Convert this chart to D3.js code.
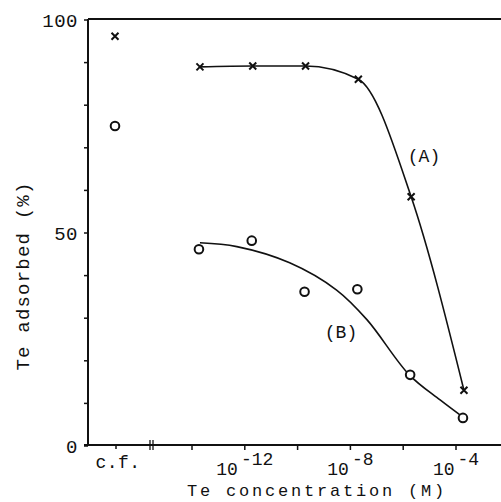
<!DOCTYPE html>
<html><head><meta charset="utf-8">
<script src="https://cdn.jsdelivr.net/npm/d3@7"></script>
<style>
html,body{margin:0;padding:0;background:#fff;}
svg{display:block;}
text{font-family:"Liberation Mono","DejaVu Sans Mono",monospace;fill:#111;}
</style></head>
<body>
<script>
// ---- data ----
const concentrations = [2e-14, 2e-12, 2e-10, 2e-8, 2e-6, 2e-4]; // M
const seriesA = [89.0, 89.2, 89.2, 86.1, 58.5, 13.1];
const seriesB = [46.2, 48.2, 36.2, 36.8, 16.7, 6.6];
// hand-drawn trend curve for (B)
const fitBConc = [2e-14, 5e-13, 5e-11, 3e-9, 4.3e-8, 1.7e-6, 2.5e-5, 2e-4];
const fitB = [47.7, 46.8, 43.0, 36.6, 29.6, 16.7, 10.8, 6.6];
const cfCategory = ["c.f."];
const cfA = [96.2];
const cfB = [75.1];
const yTicksLabeled = [0, 50, 100];
const yTicksMinor = [10, 20, 30, 40, 60, 70, 80, 90];
const xTickValues = [1e-14, 1e-12, 1e-10, 1e-8, 1e-6, 1e-4];
const xTickLabelExp = [-12, -8, -4];

const W = 501, H = 502;
const svg = d3.select("body").append("svg").attr("width", W).attr("height", H);

const x0 = 88, xEnd = 501, yTop = 19, yBot = 446;
const y = d3.scaleLinear().domain([0, 100]).range([446, 20]);
const x = d3.scaleLog().domain([1e-14, 1e-4]).range([192, 456]);
const xcf = d3.scaleBand().domain(cfCategory).range([88, 144]);

const ink = "#111";

// frame: top line
svg.append("line").attr("x1", x0).attr("x2", xEnd).attr("y1", yTop).attr("y2", yTop)
  .attr("stroke", ink).attr("stroke-width", 2);
// y axis line
svg.append("line").attr("x1", x0).attr("x2", x0).attr("y1", yTop).attr("y2", yBot)
  .attr("stroke", ink).attr("stroke-width", 2);
// x axis line
svg.append("line").attr("x1", x0 - 4).attr("x2", xEnd).attr("y1", yBot - 1).attr("y2", yBot - 1)
  .attr("stroke", ink).attr("stroke-width", 2);

// y ticks
svg.selectAll(".ytk").data(yTicksLabeled.concat(yTicksMinor)).enter().append("line")
  .attr("x1", x0 - 4).attr("x2", x0).attr("y1", d => y(d)).attr("y2", d => y(d))
  .attr("stroke", ink).attr("stroke-width", 1.5);
svg.selectAll(".ylab").data(yTicksLabeled).enter().append("text")
  .attr("x", x0 - 10).attr("y", d => y(d)).attr("dy", "0.35em")
  .attr("text-anchor", "end").attr("font-size", 19).attr("letter-spacing", 0.5)
  .text(d => d);

// x ticks
svg.selectAll(".xtk").data(xTickValues).enter().append("line")
  .attr("x1", d => x(d)).attr("x2", d => x(d)).attr("y1", yBot - 1).attr("y2", yBot + 4)
  .attr("stroke", ink).attr("stroke-width", 1.5);
svg.append("line").attr("x1", xcf("c.f.") + xcf.bandwidth() / 2).attr("x2", xcf("c.f.") + xcf.bandwidth() / 2)
  .attr("y1", yBot - 1).attr("y2", yBot + 3).attr("stroke", ink).attr("stroke-width", 1.5);

// axis break marks
[150, 153].forEach(bx => {
  svg.append("line").attr("x1", bx).attr("x2", bx).attr("y1", yBot - 6).attr("y2", yBot + 4)
    .attr("stroke", ink).attr("stroke-width", 1.3);
});

// x tick labels (10^n)
xTickLabelExp.forEach(e => {
  const cx = x(Math.pow(10, e));
  const t = svg.append("text").attr("x", cx).attr("y", yBot + 29)
    .attr("text-anchor", "middle").attr("font-size", 18);
  t.append("tspan").text("10");
  t.append("tspan").attr("dy", -10).attr("dx", 3).text(e);
});
// c.f. label
svg.append("text").attr("x", xcf("c.f.") + xcf.bandwidth() / 2 + 2).attr("y", yBot + 22)
  .attr("text-anchor", "middle").attr("font-size", 18).attr("letter-spacing", 0.5).text("c.f.");

// axis titles
svg.append("text").attr("x", 317).attr("y", 496).attr("text-anchor", "middle")
  .attr("font-size", 17).attr("letter-spacing", 2.8).text("Te concentration (M)");
svg.append("text").attr("transform", "translate(29,276) rotate(-90)")
  .attr("text-anchor", "middle").attr("font-size", 19).attr("letter-spacing", 1.2)
  .text("Te adsorbed (%)");

// curves
const ptsA = concentrations.map((c, i) => [x(c), y(seriesA[i])]);
const ptsFitB = fitBConc.map((c, i) => [x(c), y(fitB[i])]);
svg.append("path").attr("d", d3.line().curve(d3.curveMonotoneX)(ptsA))
  .attr("fill", "none").attr("stroke", ink).attr("stroke-width", 1.6);
svg.append("path").attr("d", d3.line().curve(d3.curveCatmullRom.alpha(0.5))(ptsFitB))
  .attr("fill", "none").attr("stroke", ink).attr("stroke-width", 1.6);

// markers: crosses (A)
function cross(cx, cy) {
  const s = 3.5;
  svg.append("path").attr("d", `M${cx - s},${cy - s}L${cx + s},${cy + s}M${cx - s},${cy + s}L${cx + s},${cy - s}`)
    .attr("stroke", ink).attr("stroke-width", 2).attr("fill", "none");
}
ptsA.forEach(p => cross(p[0], p[1]));
cfA.forEach((v, i) => cross(xcf(cfCategory[i]) + xcf.bandwidth() / 2 - 1, y(v)));

// markers: circles (B)
concentrations.forEach((c, i) => {
  svg.append("circle").attr("cx", x(c) - 1).attr("cy", y(seriesB[i])).attr("r", 4.3)
    .attr("fill", "#fff").attr("stroke", ink).attr("stroke-width", 2);
});
cfB.forEach((v, i) => {
  svg.append("circle").attr("cx", xcf(cfCategory[i]) + xcf.bandwidth() / 2 - 1).attr("cy", y(v)).attr("r", 4.3)
    .attr("fill", "#fff").attr("stroke", ink).attr("stroke-width", 2);
});

// series labels
svg.append("text").attr("x", 424).attr("y", 156).attr("dy", "0.35em").attr("text-anchor", "middle")
  .attr("font-size", 18).text("(A)");
svg.append("text").attr("x", 341).attr("y", 332).attr("dy", "0.35em").attr("text-anchor", "middle")
  .attr("font-size", 18).text("(B)");
</script>
</body></html>
